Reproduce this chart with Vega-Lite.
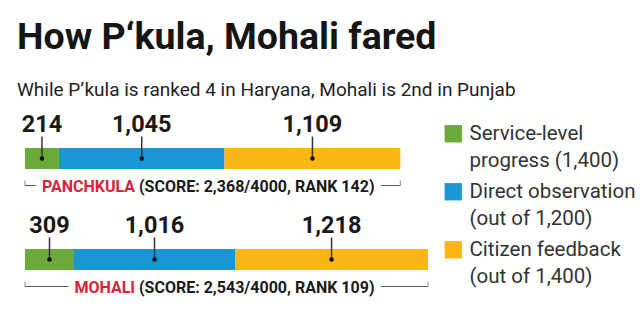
{
  "$schema": "https://vega.github.io/schema/vega-lite/v6.json",
  "width": 640,
  "height": 202,
  "autosize": {"type": "none"},
  "padding": {"left": 0, "top": 108, "right": 0, "bottom": 9},
  "background": "white",
  "title": {
    "text": "How P‘kula, Mohali fared",
    "subtitle": "While P’kula is ranked 4 in Haryana, Mohali is 2nd in Punjab",
    "anchor": "start",
    "frame": "group",
    "dx": 17,
    "offset": 8,
    "font": "Roboto, sans-serif",
    "fontSize": 37.5,
    "fontWeight": "bold",
    "color": "#151515",
    "subtitleFont": "Roboto, sans-serif",
    "subtitleFontSize": 19,
    "subtitleFontWeight": "normal",
    "subtitleColor": "#222222",
    "subtitlePadding": 25
  },
  "config": {"view": {"stroke": null}},
  "datasets": {
    "parts": [
      {"city": "Panchkula", "category": "Service-level progress (1,400)", "value": 214},
      {"city": "Panchkula", "category": "Direct observation (out of 1,200)", "value": 1045},
      {"city": "Panchkula", "category": "Citizen feedback (out of 1,400)", "value": 1109},
      {"city": "Mohali", "category": "Service-level progress (1,400)", "value": 309},
      {"city": "Mohali", "category": "Direct observation (out of 1,200)", "value": 1016},
      {"city": "Mohali", "category": "Citizen feedback (out of 1,400)", "value": 1218}
    ],
    "cities": [
      {"city": "Panchkula", "name": "PANCHKULA", "score": 2368, "rank": 142},
      {"city": "Mohali", "name": "MOHALI", "score": 2543, "rank": 109}
    ]
  },
  "encoding": {
    "y": {
      "field": "city",
      "type": "nominal",
      "scale": {"domain": ["Panchkula", "Mohali"], "paddingInner": 0, "paddingOuter": 0},
      "axis": null
    }
  },
  "layer": [
    {
      "data": {"name": "parts"},
      "mark": {"type": "bar", "height": 21},
      "encoding": {
        "x": {
          "field": "value",
          "type": "quantitative",
          "stack": "zero",
          "scale": {"domain": [0, 4000], "range": [25, 659]},
          "axis": null
        },
        "color": {
          "field": "category",
          "type": "nominal",
          "scale": {
            "domain": ["Service-level progress (1,400)", "Direct observation (out of 1,200)", "Citizen feedback (out of 1,400)"],
            "range": ["#6aaa3a", "#1a96d4", "#fbb616"]
          },
          "legend": {
            "orient": "none",
            "legendX": 443,
            "legendY": 15.5,
            "title": null,
            "padding": 0,
            "symbolType": "square",
            "symbolSize": 300,
            "symbolStrokeWidth": 0,
            "symbolOpacity": 1,
            "labelFont": "Roboto, sans-serif",
            "labelFontSize": 20.5,
            "labelColor": "#333333",
            "labelLimit": 400,
            "labelOffset": 6,
            "labelBaseline": "middle",
            "rowPadding": 10,
            "labelExpr": "datum.value == 'Service-level progress (1,400)' ? ['Service-level', 'progress (1,400)'] : [split(datum.value, ' (')[0], '(' + split(datum.value, ' (')[1]]",
            "encode": {"labels": {"update": {"lineHeight": {"value": 27}}}}
          }
        },
        "order": {"field": "category", "type": "nominal", "sort": "descending"}
      }
    },
    {
      "data": {"name": "parts"},
      "mark": {"type": "tick", "orient": "vertical", "size": 22, "thickness": 1.5, "color": "#333333", "yOffset": -11, "opacity": 1},
      "encoding": {
        "x": {"field": "value", "type": "quantitative", "stack": "zero", "bandPosition": 0.5},
        "detail": {"field": "category", "type": "nominal"},
        "order": {"field": "category", "type": "nominal", "sort": "descending"}
      }
    },
    {
      "data": {"name": "parts"},
      "mark": {"type": "point", "filled": true, "size": 20, "color": "#111111", "opacity": 1},
      "encoding": {
        "x": {"field": "value", "type": "quantitative", "stack": "zero", "bandPosition": 0.5},
        "detail": {"field": "category", "type": "nominal"},
        "order": {"field": "category", "type": "nominal", "sort": "descending"}
      }
    },
    {
      "data": {"name": "parts"},
      "mark": {
        "type": "text",
        "font": "Roboto, sans-serif",
        "fontSize": 23.5,
        "fontWeight": "bold",
        "color": "#1a1a1a",
        "baseline": "alphabetic",
        "dy": -26.5
      },
      "encoding": {
        "x": {"field": "value", "type": "quantitative", "stack": "zero", "bandPosition": 0.5},
        "detail": {"field": "category", "type": "nominal"},
        "order": {"field": "category", "type": "nominal", "sort": "descending"},
        "text": {"field": "value", "type": "quantitative", "format": ","}
      }
    },
    {
      "data": {"name": "cities"},
      "mark": {"type": "bar", "height": 1, "color": "#5a5a5a", "yOffset": 27},
      "encoding": {
        "x": {"field": "score", "type": "quantitative", "stack": "zero"}
      }
    },
    {
      "data": {"name": "cities"},
      "mark": {"type": "tick", "orient": "vertical", "size": 5, "thickness": 1, "color": "#5a5a5a", "yOffset": 24.5},
      "encoding": {"x": {"field": "score", "type": "quantitative", "stack": "zero", "bandPosition": 0}}
    },
    {
      "data": {"name": "cities"},
      "mark": {"type": "tick", "orient": "vertical", "size": 5, "thickness": 1, "color": "#5a5a5a", "yOffset": 24.5},
      "encoding": {"x": {"field": "score", "type": "quantitative", "stack": "zero", "bandPosition": 1}}
    },
    {
      "data": {"name": "cities"},
      "transform": [
        {"calculate": "'(SCORE: ' + format(datum.score, ',') + '/4000, RANK ' + datum.rank + ')'", "as": "note"}
      ],
      "layer": [
        {
          "mark": {
            "type": "text", "align": "right", "baseline": "middle", "dx": 110, "dy": 28,
            "font": "Roboto, sans-serif",
            "fontSize": 16, "fontWeight": "bold",
            "fill": "white", "stroke": "white", "strokeWidth": 14, "strokeJoin": "round"
          },
          "encoding": {
            "x": {"field": "score", "type": "quantitative", "stack": "zero", "bandPosition": 0},
            "text": {"field": "name", "type": "nominal"}
          }
        },
        {
          "mark": {
            "type": "text", "align": "left", "baseline": "middle", "dx": 114, "dy": 28,
            "font": "Roboto, sans-serif",
            "fontSize": 16, "fontWeight": "bold",
            "fill": "white", "stroke": "white", "strokeWidth": 14, "strokeJoin": "round"
          },
          "encoding": {
            "x": {"field": "score", "type": "quantitative", "stack": "zero", "bandPosition": 0},
            "text": {"field": "note", "type": "nominal"}
          }
        },
        {
          "mark": {
            "type": "text", "align": "right", "baseline": "middle", "dx": 110, "dy": 28,
            "font": "Roboto, sans-serif",
            "fontSize": 16, "fontWeight": "bold", "fill": "#d8233a"
          },
          "encoding": {
            "x": {"field": "score", "type": "quantitative", "stack": "zero", "bandPosition": 0},
            "text": {"field": "name", "type": "nominal"}
          }
        },
        {
          "mark": {
            "type": "text", "align": "left", "baseline": "middle", "dx": 114, "dy": 28,
            "font": "Roboto, sans-serif",
            "fontSize": 16, "fontWeight": "bold", "fill": "#1a1a1a"
          },
          "encoding": {
            "x": {"field": "score", "type": "quantitative", "stack": "zero", "bandPosition": 0},
            "text": {"field": "note", "type": "nominal"}
          }
        }
      ]
    }
  ]
}
